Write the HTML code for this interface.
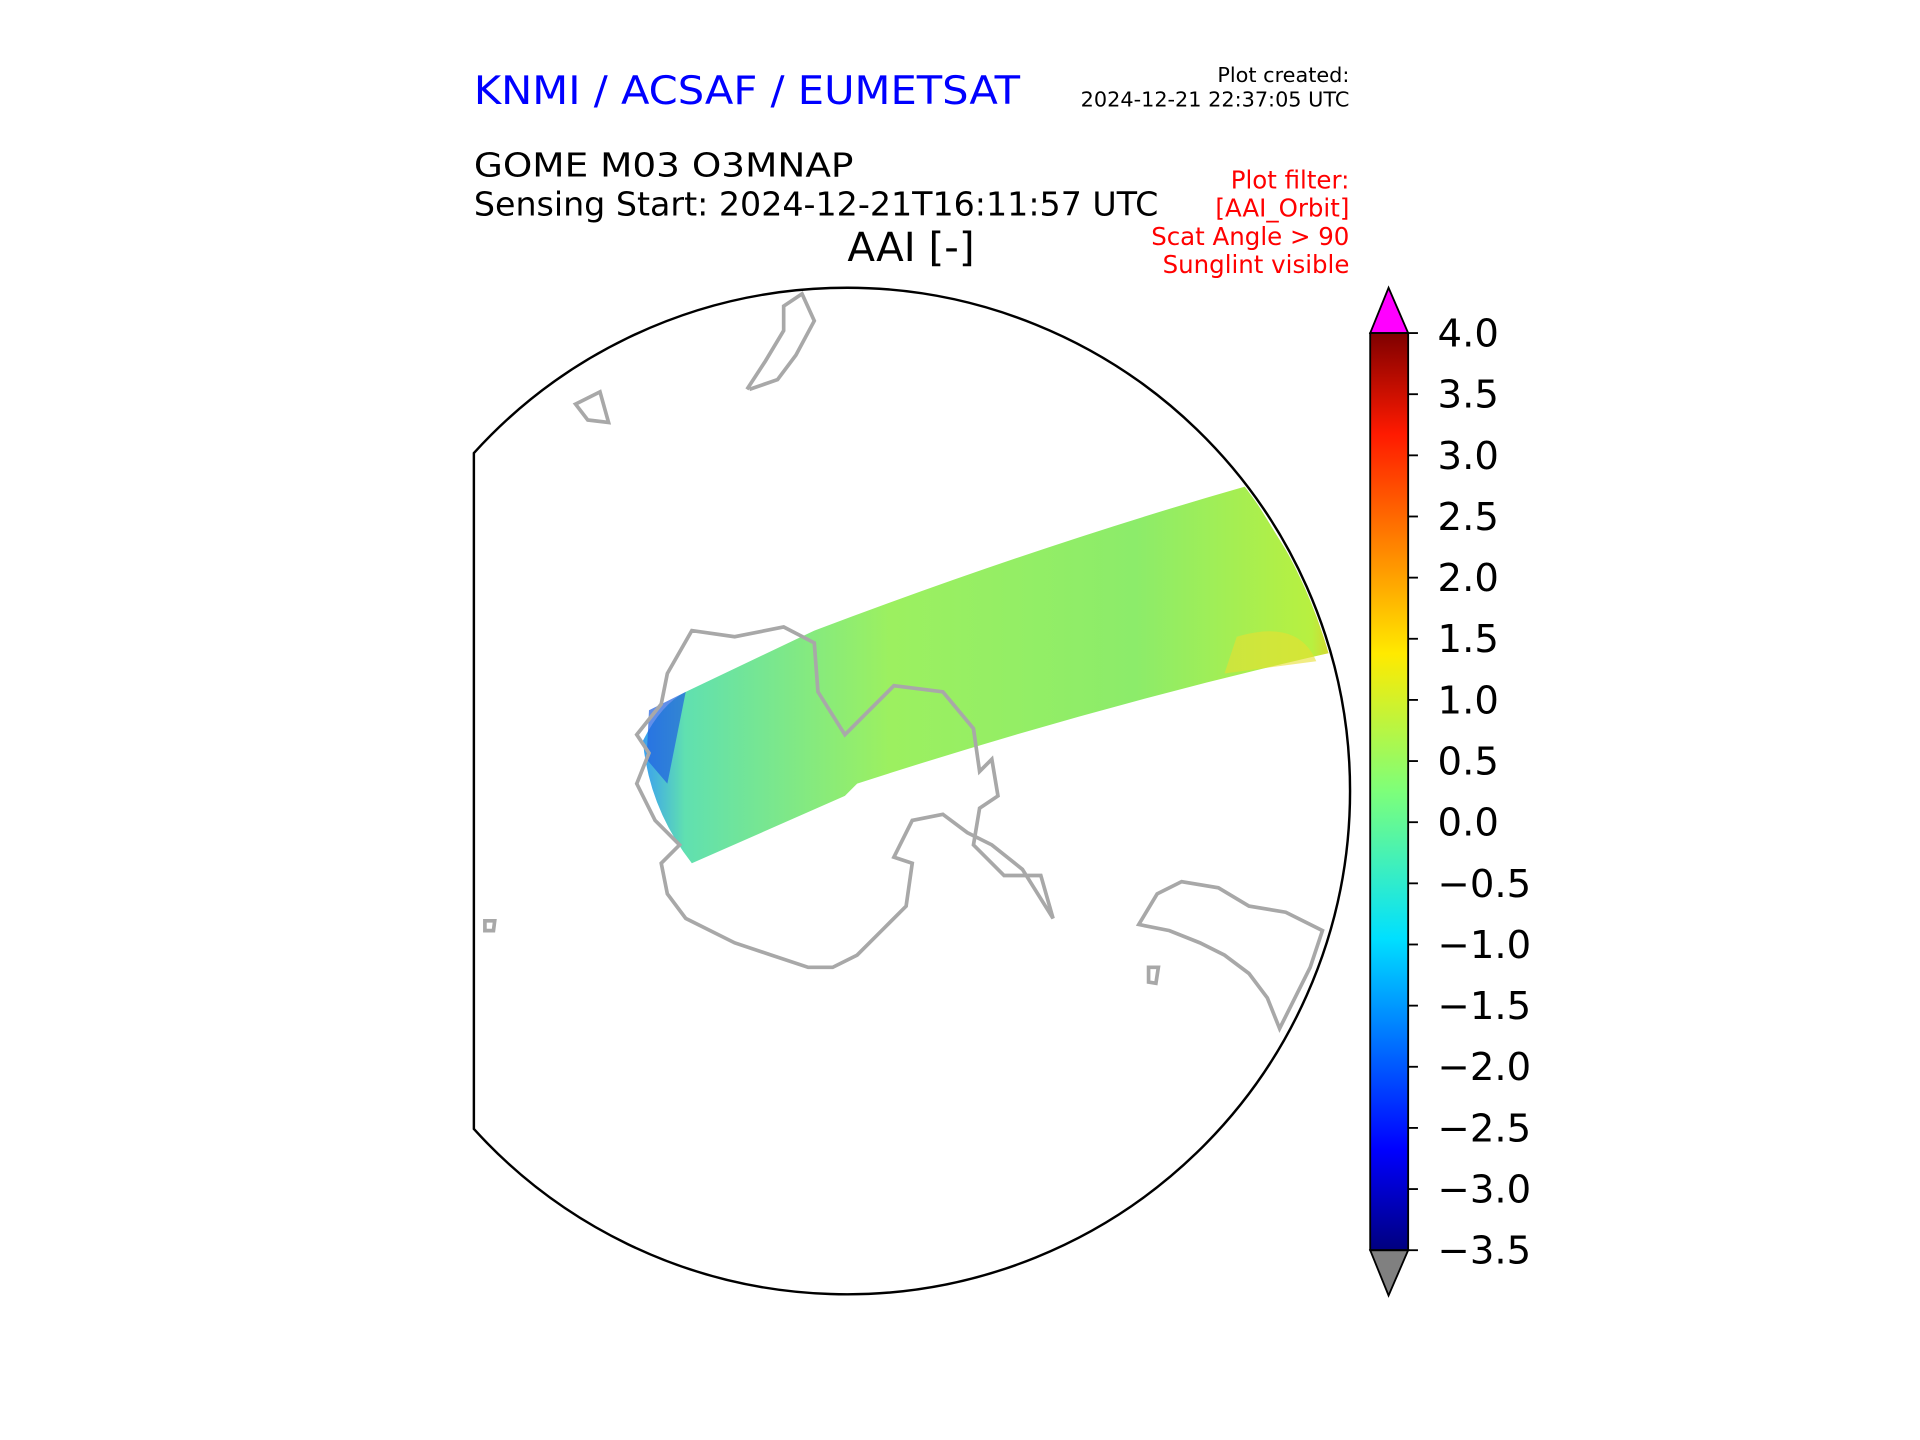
<!DOCTYPE html>
<html><head><meta charset="utf-8"><style>
html,body{margin:0;padding:0;background:#fff;}
svg{display:block;font-family:"DejaVu Sans","Liberation Sans",sans-serif;}
</style></head><body>
<svg width="1920" height="1440" viewBox="0 0 1568 1176">
<defs>
<linearGradient id="jet" x1="0" y1="1" x2="0" y2="0">
<stop offset="0" stop-color="#00007f"/><stop offset="0.11" stop-color="#0000ff"/>
<stop offset="0.34" stop-color="#00e0ff"/><stop offset="0.5" stop-color="#7dff7a"/>
<stop offset="0.65" stop-color="#ffea00"/><stop offset="0.89" stop-color="#ff1a00"/>
<stop offset="1" stop-color="#7f0000"/></linearGradient>
<linearGradient id="sw" x1="0" y1="0" x2="1" y2="0">
<stop offset="0" stop-color="#3aa0f0"/><stop offset="0.06" stop-color="#60e0b0"/>
<stop offset="0.35" stop-color="#9cf060"/><stop offset="0.7" stop-color="#8cec6a"/>
<stop offset="0.95" stop-color="#b8f040"/><stop offset="1" stop-color="#f0c020"/></linearGradient>
<clipPath id="circ"><circle cx="690" cy="647" r="411"/></clipPath>
</defs>
<text x="387" y="85" font-size="32" textLength="446" lengthAdjust="spacingAndGlyphs" fill="#0000ff">KNMI / ACSAF / EUMETSAT</text>
<g font-size="17" text-anchor="end">
<text x="1102" y="67">Plot created:</text><text x="1102" y="87">2024-12-21 22:37:05 UTC</text></g>
<text x="387" y="144" font-size="27" textLength="310" lengthAdjust="spacingAndGlyphs">GOME M03 O3MNAP</text>
<text x="387" y="176" font-size="27" textLength="559" lengthAdjust="spacingAndGlyphs">Sensing Start: 2024-12-21T16:11:57 UTC</text>
<text x="744" y="213" font-size="33" text-anchor="middle">AAI [-]</text>
<g font-size="20" fill="#ff0000" text-anchor="end">
<text x="1102" y="154">Plot filter:</text><text x="1102" y="177">[AAI_Orbit]</text>
<text x="1102" y="200">Scat Angle &gt; 90</text><text x="1102" y="223">Sunglint visible</text></g>
<g clip-path="url(#circ)">
<rect x="387" y="200" width="800" height="900" fill="#fff"/>
<path d="M525,605 Q540,575 560,565 L665,515 Q850,445 1018,397 L1100,530 Q900,575 700,640 L690,650 L565,705 Q530,660 525,605Z" fill="url(#sw)"/>
<path d="M1010,520 Q1060,505 1075,540 L1000,550Z" fill="#e8e030" opacity="0.6"/>
<path d="M530,580 L560,565 L545,640 L528,620Z" fill="#2060e0" opacity="0.7"/>
<g fill="none" stroke="#a8a8a8" stroke-width="3">
<path d="M610,318 L625,295 L640,270 L640,250 L655,240 L665,262 L650,290 L635,310 L612,318"/>
<path d="M470,330 L490,320 L497,345 L480,343Z"/>
<path d="M530,615 L520,600 L540,575 L545,550 L565,515 L600,520 L640,512 L665,525 L668,565 L690,600 L710,580 L730,560 L770,565 L795,595 L800,630 L810,620 L815,650 L800,660 L795,690 L820,715 L850,715 L860,750 L835,710 L810,690 L790,680 L770,665 L745,670 L730,700 L745,705 L740,740 L720,760 L700,780 L680,790 L660,790 L630,780 L600,770 L560,750 L545,730 L540,705 L555,690 L535,670 L520,640Z"/>
<path d="M930,755 L945,730 L965,720 L995,725 L1020,740 L1050,745 L1080,760 L1070,790 L1055,820 L1045,840 L1035,815 L1020,795 L1000,780 L980,770 L955,760Z"/>
<path d="M938,790 L946,790 L944,803 L938,802Z"/>
<path d="M396,752 L404,752 L403,760 L396,760Z"/>
</g>
</g>
<path d="M387,370 A411,411 0 1 1 387,922 Z" fill="none" stroke="#000" stroke-width="2"/>
<rect x="1119" y="272" width="31" height="749" fill="url(#jet)"/>
<path d="M1119,272 L1134,235 L1150,272Z" fill="#ff00ff" stroke="#000" stroke-width="1.5"/>
<path d="M1119,1021 L1134,1058 L1150,1021Z" fill="#808080" stroke="#000" stroke-width="1.5"/>
<rect x="1119" y="272" width="31" height="749" fill="none" stroke="#000" stroke-width="1.5"/>
<g id="ticks" font-size="31.5"></g>
<script>
const ticks=[4.0,3.5,3.0,2.5,2.0,1.5,1.0,0.5,0.0,-0.5,-1.0,-1.5,-2.0,-2.5,-3.0,-3.5];
const vmin=-3.5, vmax=4.0, yTop=272, yBot=1021;
function yOf(v){return yBot-(v-vmin)/(vmax-vmin)*(yBot-yTop);}
const g=document.getElementById('ticks');
const NS='http://www.w3.org/2000/svg';
ticks.forEach(v=>{
  const y=yOf(v);
  const l=document.createElementNS(NS,'line');
  l.setAttribute('x1',1150);l.setAttribute('x2',1158);l.setAttribute('y1',y);l.setAttribute('y2',y);
  l.setAttribute('stroke','#000');l.setAttribute('stroke-width','1.5');
  
  
  g.appendChild(l);
  const t=document.createElementNS(NS,'text');
  t.setAttribute('x',1174);t.setAttribute('y',y+11);
  t.textContent=(v<0?'\u2212':'')+Math.abs(v).toFixed(1);
  
  
  g.appendChild(t);
});
</script>
</svg>
</body></html>
